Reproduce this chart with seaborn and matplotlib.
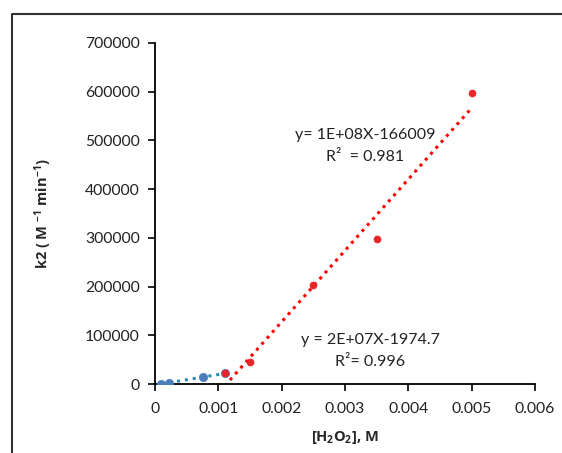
import numpy as np
import pandas as pd
import matplotlib
matplotlib.use("Agg")
import matplotlib.pyplot as plt
import seaborn as sns
from matplotlib.lines import Line2D

# datos
x_azul = [0.0001, 0.00022, 0.00075, 0.0011]
y_azul = [500, 2500, 13500, 22000]
x_rojo = [0.0011, 0.0015, 0.0025, 0.0035, 0.005]
y_rojo = [22000, 45000, 203000, 298000, 597000]

eq_rojo = ["y= 1E+08X-166009", "R²  = 0.981"]
eq_azul = ["y = 2E+07X-1974.7", "R²= 0.996"]

sns.set_theme(style="white")
plt.rcParams['font.family'] = ['Lato', 'DejaVu Sans']
plt.rcParams['mathtext.fontset'] = 'custom'
plt.rcParams['mathtext.rm'] = 'Open Sans'
plt.rcParams['mathtext.bf'] = 'Open Sans:bold'
plt.rcParams['mathtext.default'] = 'bf'

df_azul = pd.DataFrame({'x': x_azul, 'y': y_azul})
df_rojo = pd.DataFrame({'x': x_rojo, 'y': y_rojo})

# lineas de tendencia (minimos cuadrados)
def tendencia(df):
    m, b = np.polyfit(df['x'], df['y'], 1)
    xs = np.array([df['x'].min(), df['x'].max()])
    return pd.DataFrame({'x': xs, 'y': m * xs + b})

fig = plt.figure(figsize=(5.62, 4.53), dpi=100)
ax = fig.add_axes([155 / 562, 1 - 384 / 453, 380 / 562, 341 / 453])

sns.lineplot(data=tendencia(df_azul), x='x', y='y', ax=ax, color='#2b8cb0',
             linestyle=(0, (1, 1.6)), linewidth=2.2)
sns.lineplot(data=tendencia(df_rojo), x='x', y='y', ax=ax, color='#ff0000',
             linestyle=(0, (1, 1.6)), linewidth=2.2)
sns.scatterplot(data=df_azul, x='x', y='y', ax=ax, color='#4a7ebb', s=36,
                edgecolor='#4a7ebb', zorder=3)
sns.scatterplot(data=df_rojo, x='x', y='y', ax=ax, color='#e8262a', s=26,
                edgecolor='#e8262a', zorder=4)

ax.set_xlim(0, 0.006)
ax.set_ylim(0, 700000)
ax.set_xticks(np.arange(0, 0.0061, 0.001))
ax.set_xticklabels(['0', '0.001', '0.002', '0.003', '0.004', '0.005', '0.006'])
ax.set_yticks(np.arange(0, 700001, 100000))
ax.set_yticklabels([f"{v:d}" for v in range(0, 700001, 100000)])
ax.tick_params(axis='both', labelsize=11.3, direction='out', length=5, width=1.2,
               color='black', labelcolor='#222222', pad=6)
ax.tick_params(axis='x', bottom=True, pad=8)
ax.tick_params(axis='y', left=True)
sns.despine(ax=ax)
for lado in ['left', 'bottom']:
    ax.spines[lado].set_color('black')
    ax.spines[lado].set_linewidth(1.3)

ax.set_xlabel(r"[H$_2$O$_2$], M", fontsize=10.5, fontweight='bold',
              family='Open Sans', labelpad=9)
ax.set_ylabel(r"k2 ( M $^{-1}$ min$^{-1}$)", fontsize=10.5, fontweight='bold',
              family='Open Sans', labelpad=22)

tam = 11.5
ax.text(0.003317, 511300, eq_rojo[0], ha='center', va='center', fontsize=tam, color='#222222')
ax.text(0.003317, 466100, eq_rojo[1], ha='center', va='center', fontsize=tam, color='#222222')
ax.text(0.003397, 90350, eq_azul[0], ha='center', va='center', fontsize=tam, color='#222222')
ax.text(0.003397, 45170, eq_azul[1], ha='center', va='center', fontsize=tam, color='#222222')

# borde del area del grafico (recortado)
fig.add_artist(Line2D([12 / 562, 12 / 562, 1.0], [0.0, 1 - 14 / 453, 1 - 14 / 453],
                      transform=fig.transFigure, color='#333333', linewidth=1.5))

fig.savefig("out.png", dpi=100)
